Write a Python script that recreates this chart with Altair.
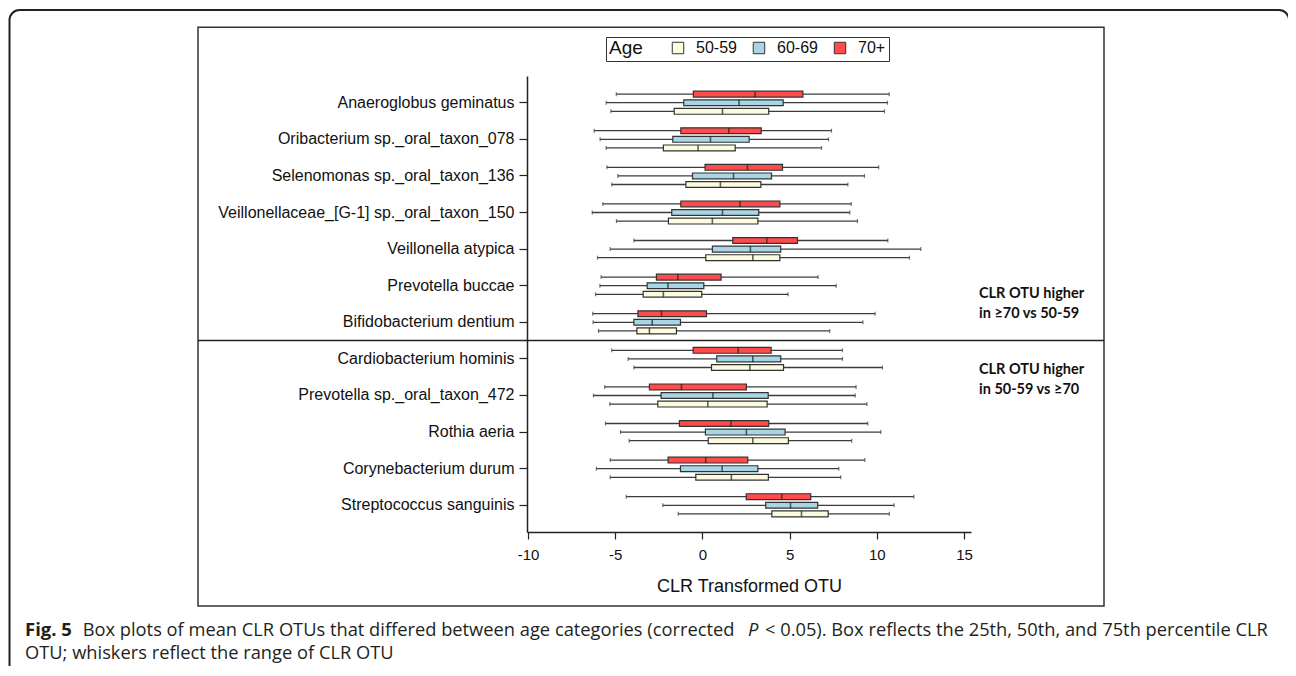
import altair as alt
import pandas as pd

taxa = [
    "Anaeroglobus geminatus",
    "Oribacterium sp._oral_taxon_078",
    "Selenomonas sp._oral_taxon_136",
    "Veillonellaceae_[G-1] sp._oral_taxon_150",
    "Veillonella atypica",
    "Prevotella buccae",
    "Bifidobacterium dentium",
    "Cardiobacterium hominis",
    "Prevotella sp._oral_taxon_472",
    "Rothia aeria",
    "Corynebacterium durum",
    "Streptococcus sanguinis",
]
age_rows = ["70+", "60-69", "50-59"]          # top-to-bottom inside each group
legend_order = ["50-59", "60-69", "70+"]
age_colors = ["#fcfbe0", "#a8d6e4", "#ff4b4b"]

# 70+
min_70 = [-4.94, -6.21, -5.48, -5.71, -3.93, -5.81, -6.29, -5.20, -5.60, -5.56, -5.29, -4.37]
q1_70 = [-0.52, -1.24, 0.15, -1.24, 1.74, -2.64, -3.70, -0.53, -3.04, -1.32, -1.97, 2.51]
med_70 = [3.02, 1.51, 2.58, 2.16, 3.69, -1.41, -2.35, 2.05, -1.20, 1.63, 0.19, 4.55]
q3_70 = [5.76, 3.37, 4.59, 4.44, 5.45, 1.07, 0.23, 3.94, 2.52, 3.80, 2.60, 6.21]
max_70 = [10.71, 7.40, 10.11, 8.53, 10.63, 6.63, 9.90, 8.03, 8.81, 9.48, 9.31, 12.12]
# 60-69
min_60 = [-5.52, -5.87, -4.85, -6.32, -5.29, -5.88, -6.27, -4.26, -6.25, -4.70, -6.08, -2.27]
q1_60 = [-1.07, -1.70, -0.57, -1.76, 0.57, -3.17, -3.93, 0.82, -2.37, 0.17, -1.26, 3.63]
med_60 = [2.10, 0.46, 1.78, 1.15, 2.75, -1.98, -2.88, 2.89, 0.60, 2.52, 1.13, 5.05]
q3_60 = [4.63, 2.68, 3.96, 3.23, 4.49, 0.08, -1.26, 4.49, 3.77, 4.74, 3.18, 6.61]
max_60 = [10.61, 7.23, 9.29, 8.45, 12.52, 7.67, 9.20, 8.03, 8.76, 10.23, 7.82, 10.99]
# 50-59
min_50 = [-5.25, -5.52, -5.20, -4.93, -6.02, -6.13, -5.96, -3.93, -5.31, -4.20, -5.29, -1.39]
q1_50 = [-1.62, -2.24, -0.95, -1.95, 0.19, -3.40, -3.76, 0.52, -2.56, 0.33, -0.38, 3.98]
med_50 = [1.15, -0.25, 1.03, 0.57, 2.89, -2.24, -3.04, 2.72, 0.31, 2.89, 1.66, 5.68]
q3_50 = [3.80, 1.88, 3.35, 3.18, 4.44, -0.04, -1.49, 4.65, 3.71, 4.93, 3.78, 7.21]
max_50 = [10.44, 6.83, 8.34, 8.89, 11.87, 4.91, 7.30, 10.32, 9.43, 8.56, 7.93, 10.72]

x_ticks = [-10, -5, 0, 5, 10, 15]
x_title = "CLR Transformed OTU"
note_top = ["CLR OTU higher", "in \u226570 vs 50-59"]
note_bottom = ["CLR OTU higher", "in 50-59 vs \u226570"]
cap_bold = "Fig. 5"
cap_a = "Box plots of mean CLR OTUs that differed between age categories (corrected"
cap_p = "P"
cap_b = "< 0.05). Box reflects the 25th, 50th, and 75th percentile CLR"
cap_line2 = "OTU; whiskers reflect the range of CLR OTU"

stats = {
    "70+": (min_70, q1_70, med_70, q3_70, max_70),
    "60-69": (min_60, q1_60, med_60, q3_60, max_60),
    "50-59": (min_50, q1_50, med_50, q3_50, max_50),
}
rows = []
for age, (mn, q1, md, q3, mx) in stats.items():
    for i, t in enumerate(taxa):
        rows.append(dict(taxon=t, age=age, lo=mn[i], q1=q1[i], med=md[i], q3=q3[i], hi=mx[i]))
df = pd.DataFrame(rows)
one = pd.DataFrame({"k": [0]})

FONT = "Liberation Sans"
x_scale = alt.Scale(domain=[-10.06, 15.4], nice=False, zero=False)
x_axis = alt.Axis(values=x_ticks, grid=False, tickSize=7, labelPadding=8, labelFontSize=15,
                  titleFontSize=18, titleFontWeight="normal", titlePadding=15,
                  labelExpr="'' + datum.value")
y_axis = alt.Axis(title=None, grid=False, tickSize=8, labelPadding=5, labelFontSize=16, labelLimit=500)


def X(f):
    return alt.X(f, type="quantitative", scale=x_scale, axis=x_axis, title=x_title)


Y = alt.Y("taxon:N", sort=taxa, scale=alt.Scale(paddingInner=0, paddingOuter=0.23), axis=y_axis)
YO = alt.YOffset("age:N", sort=age_rows, scale=alt.Scale(paddingInner=0.32, paddingOuter=0.79))

base = alt.Chart(df)
whisk = base.mark_rule(color="#3c3c3c", strokeWidth=1.3).encode(x=X("lo"), x2="hi:Q", y=Y, yOffset=YO)
cap_lo = base.mark_tick(color="#3c3c3c", thickness=1.2, size=4).encode(x=X("lo"), y=Y, yOffset=YO)
cap_hi = base.mark_tick(color="#3c3c3c", thickness=1.2, size=4).encode(x=X("hi"), y=Y, yOffset=YO)
box = base.mark_bar(stroke="#333333", strokeWidth=1.2).encode(
    x=X("q1"), x2="q3:Q", y=Y, yOffset=YO,
    color=alt.Color(
        "age:N",
        scale=alt.Scale(domain=legend_order, range=age_colors),
        legend=alt.Legend(
            title="Age", orient="none", legendX=79, legendY=-39, direction="horizontal",
            titleOrient="left", titleFontSize=19, titleFontWeight="normal", titleFont=FONT,
            titleBaseline="middle", titlePadding=27,
            labelFontSize=16, labelFont=FONT, labelOffset=10, columnPadding=14,
            symbolType="square", symbolSize=132, symbolStrokeColor="#333333", symbolStrokeWidth=1,
            symbolOpacity=1, strokeColor="#333333", padding=3, fillColor="white",
            offset=0,
        ),
    ),
)
median = base.mark_tick(color="#222222", thickness=1.6, size=6).encode(x=X("med"), y=Y, yOffset=YO)

# decorations
card = alt.Chart(one).mark_rect(fill=None, stroke="#222222", strokeWidth=2, cornerRadius=10).encode(
    x=alt.value(-517.5), x2=alt.value(762), y=alt.value(-66), y2=alt.value(640))
frame = alt.Chart(one).mark_rect(fill=None, stroke="#333333", strokeWidth=1.5).encode(
    x=alt.value(-329), x2=alt.value(577), y=alt.value(-48.7), y2=alt.value(530))
sep = alt.Chart(one).mark_rule(color="#222222", strokeWidth=1.5).encode(
    x=alt.value(-329), x2=alt.value(577),
    y=alt.YDatum(datum=taxa[7], type="nominal", bandPosition=0))


def note(lines, yc):
    return alt.Chart(one).mark_text(
        font="Lato", fontWeight="bold", fontSize=14.5, align="left", baseline="middle",
        lineHeight=19.6, color="#111111").encode(
        x=alt.value(452), y=alt.value(yc), text=alt.value(lines))


note1 = note(note_top, 218)
note2 = note(note_bottom, 294)

CF = "Open Sans"
CS = 18.3


def cap(text, x, y, weight="normal", style="normal", size=CS):
    return alt.Chart(one).mark_text(
        font=CF, fontSize=size, fontWeight=weight, fontStyle=style, align="left",
        baseline="alphabetic", color="#231f20").encode(
        x=alt.value(x), y=alt.value(y), text=alt.value(text))


caps = [
    cap(cap_bold, -502, 559.7, weight="bold", size=18.5),
    cap(cap_a, -444.3, 559.7),
    cap(cap_p, 221, 559.7, style="italic"),
    cap(cap_b, 238, 559.7),
    cap(cap_line2, -502, 582.9),
]

chart = alt.layer(card, frame, sep, whisk, cap_lo, cap_hi, box, median, note1, note2, *caps).properties(
    width=444, height=456,
    padding={"left": 519, "top": 68, "right": 317, "bottom": 134},
    autosize=alt.AutoSizeParams(type="none"),
).configure_view(stroke=None).configure_axis(
    domainColor="#222222", tickColor="#222222", labelColor="#111111", titleColor="#111111",
    labelFont=FONT, titleFont=FONT, domainWidth=1.5, tickWidth=1.2,
).configure_legend(labelColor="#111111", titleColor="#111111")

chart.save("out.html", embed_options={"renderer": "svg", "actions": False})
